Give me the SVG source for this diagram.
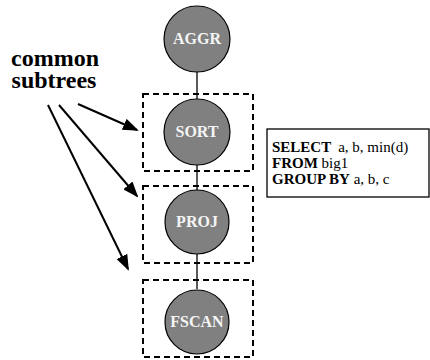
<svg xmlns="http://www.w3.org/2000/svg" width="430" height="360" viewBox="0 0 430 360">
<style>
.node circle{fill:#808080;stroke:#000;stroke-width:1.2}
.node text{font-weight:bold;font-size:16px;fill:#f4f4f4;text-anchor:middle}
.sub{fill:none;stroke:#000;stroke-width:2;stroke-dasharray:6 4}
.edge{stroke:#000;stroke-width:1.3;fill:none}
.arr{stroke:#000;stroke-width:2;fill:none;marker-end:url(#ah)}
.lbl{font-weight:bold;font-size:24px;fill:#000;text-anchor:middle}
.sql{font-size:15px;fill:#000}
text{font-family:'Liberation Serif','Times New Roman','DejaVu Serif',serif}
</style>
<defs>
<marker id="ah" markerWidth="8" markerHeight="6" refX="7" refY="3" orient="auto" markerUnits="strokeWidth">
<path d="M0,0 L8,3 L0,6 Z" fill="#000"/>
</marker>
</defs>
<g id="connectors">
<line class="edge" x1="197" y1="72" x2="197" y2="99"/>
<line class="edge" x1="197" y1="165" x2="197" y2="190"/>
<line class="edge" x1="197" y1="254" x2="197" y2="289"/>
<line class="arr" x1="78" y1="104" x2="137" y2="130"/>
<line class="arr" x1="59" y1="105" x2="137" y2="196"/>
<line class="arr" x1="48" y1="105" x2="128" y2="269"/>
</g>
<g id="subtrees">
<rect class="sub" x="143" y="94" width="110" height="77"/>
<rect class="sub" x="143" y="186" width="110" height="77"/>
<rect class="sub" x="143" y="280" width="110" height="77"/>
</g>
<g id="aggr" class="node"><circle cx="197" cy="39" r="33"/><text x="197" y="44">AGGR</text></g>
<g id="sort" class="node"><circle cx="197" cy="132" r="33"/><text x="197" y="137">SORT</text></g>
<g id="proj" class="node"><circle cx="197" cy="222" r="32"/><text x="197" y="227">PROJ</text></g>
<g id="fscan" class="node"><circle cx="197" cy="322" r="32"/><text x="197" y="327">FSCAN</text></g>
<g id="label">
<text class="lbl" x="55" y="66">common</text>
<text class="lbl" x="54" y="88">subtrees</text>
</g>
<g id="sqlbox">
<rect x="267" y="129" width="162" height="68" fill="#fff" stroke="#000" stroke-width="1.3"/>
<text class="sql" x="272" y="152"><tspan font-weight="bold">SELECT</tspan><tspan dx="7">a, b, min(d)</tspan></text>
<text class="sql" x="272" y="168"><tspan font-weight="bold">FROM</tspan> big1</text>
<text class="sql" x="272" y="184"><tspan font-weight="bold">GROUP BY</tspan> a, b, c</text>
</g>
</svg>
